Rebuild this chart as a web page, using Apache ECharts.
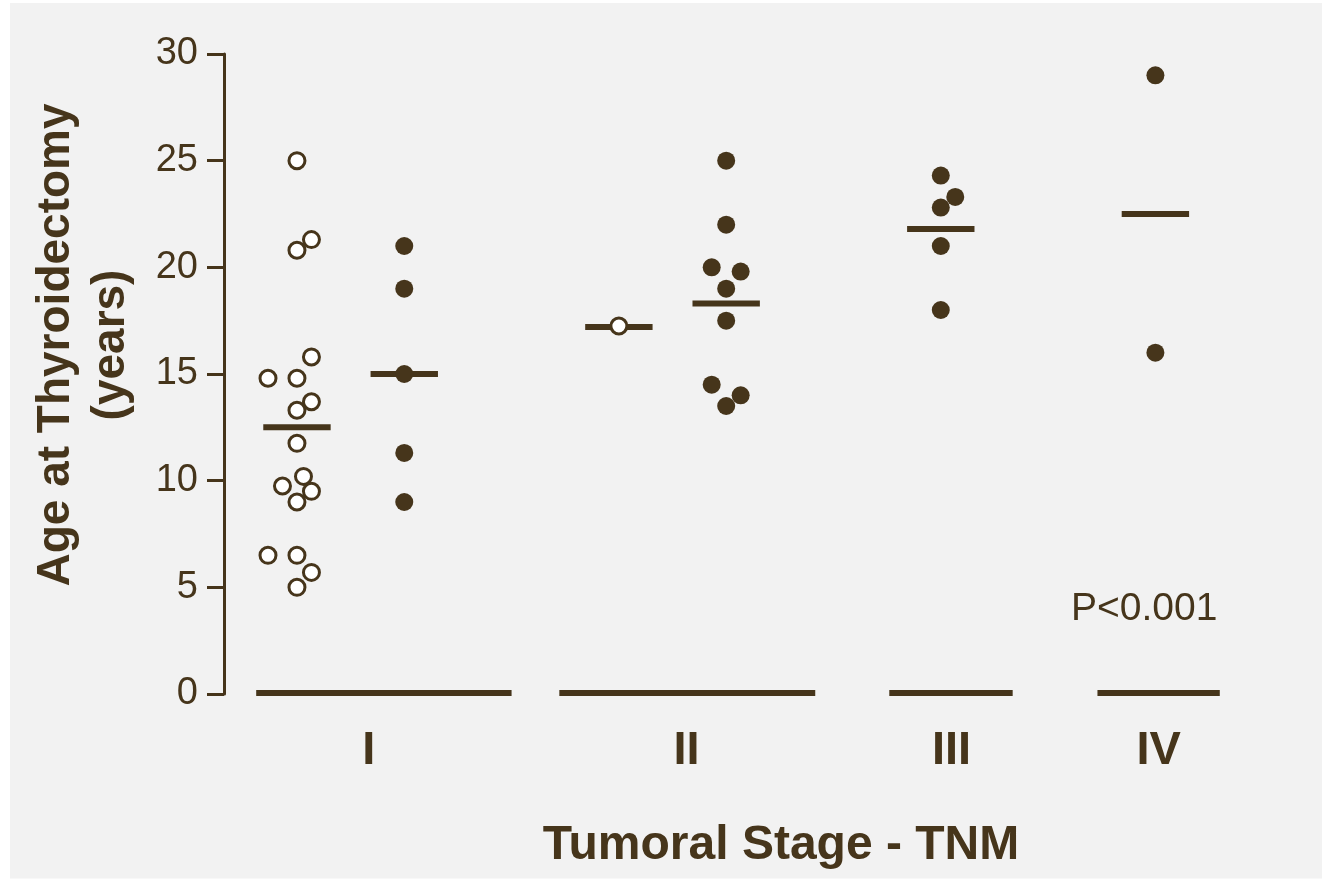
<!DOCTYPE html>
<html>
<head>
<meta charset="utf-8">
<script src="https://cdn.jsdelivr.net/npm/echarts@6/dist/echarts.min.js"></script>
<style>
  html, body { margin: 0; padding: 0; background: #ffffff; }
  #chart { width: 1322px; height: 879px; }
</style>
</head>
<body>
<div id="chart"></div>
<script>
// ---- Data ----
const stageLabels = ['I', 'II', 'III', 'IV'];
const yTicks = [0, 5, 10, 15, 20, 25, 30];

// Stage I, open circles
const stageIOpen = [25, 21.3, 20.8, 15.8, 14.8, 14.8, 13.7, 13.3, 11.75, 10.2, 9.75, 9.5, 9.0, 6.5, 6.5, 5.7, 5.0];
const stageIOpenSlot = [0, 1, 0, 1, -2, 0, 1, 0, 0, 0.45, -1, 1, 0, -2, 0, 1, 0];
// Stage I, filled circles
const stageIFilled = [21, 19, 15, 11.3, 9];
// Stage II, open circle
const stageIIOpen = [17.25];
// Stage II, filled circles
const stageIIFilled = [25, 22, 20, 19.8, 19, 17.5, 14.5, 14, 13.5];
const stageIIFilledSlot = [0, 0, -1, 1, 0, 0, -1, 1, 0];
// Stage III
const stageIII = [24.3, 23.3, 22.8, 21, 18];
const stageIIISlot = [0, 1, 0, 0, 0];
// Stage IV
const stageIV = [29, 16];

// Mean bars, per column
const columnMeans = [12.5, 15.0, 17.2, 18.3, 21.8, 22.5];

// ---- Layout (axis units on the hidden x axis) ----
const columnPos = [0, 1, 3, 4, 6, 8];
const groupSpans = [[-0.38, 2.0], [2.445, 4.83], [5.52, 6.67], [7.46, 8.6]];
const labelPos = [0.67, 3.63, 6.1, 8.03];
const SLOT = 0.135;
const MEAN_HALF = 0.314;

const BROWN = '#46351b';
const FONT = "'Liberation Sans', Arial, Helvetica, sans-serif";

function pts(col, values, slots) {
  return values.map((v, i) => [col + (slots ? slots[i] : 0) * SLOT, v]);
}

const openStyle = { color: '#ffffff', borderColor: BROWN, borderWidth: 3, opacity: 1 };
const filledStyle = { color: BROWN, borderWidth: 0, opacity: 1 };

const chart = echarts.init(document.getElementById('chart'), null, { renderer: 'canvas' });

const option = {
  animation: false,
  backgroundColor: '#ffffff',
  grid: { left: 224, right: 59.3, top: 54, bottom: 185, containLabel: false },
  xAxis: {
    type: 'value', min: -0.68, max: 9, show: false
  },
  yAxis: {
    type: 'value', min: 0, max: 30, interval: 5,
    axisLine: { show: true, onZero: false, lineStyle: { color: BROWN, width: 3 } },
    axisTick: { show: true, length: 17, lineStyle: { color: BROWN, width: 3 } },
    axisLabel: {
      color: BROWN, fontSize: 38, fontFamily: FONT, margin: 26,
      formatter: v => (yTicks.indexOf(v) >= 0 ? String(v) : '')
    },
    splitLine: { show: false }
  },
  graphic: [
    {
      type: 'rect', z: -100, silent: true,
      shape: { x: 10, y: 3, width: 1312, height: 875.5 },
      style: { fill: '#f2f2f2' }
    },
    {
      type: 'text', silent: true, x: 84, y: 345, rotation: Math.PI / 2,
      style: {
        text: 'Age at Thyroidectomy\n(years)', fill: BROWN,
        font: 'bold 46px ' + FONT, lineHeight: 55,
        align: 'center', verticalAlign: 'middle'
      }
    },
    {
      type: 'text', silent: true, x: 781, y: 846,
      style: {
        text: 'Tumoral Stage - TNM', fill: BROWN,
        font: 'bold 48px ' + FONT, align: 'center', verticalAlign: 'middle'
      }
    },
    {
      type: 'text', silent: true, x: 1071, y: 609,
      style: {
        text: 'P<0.001', fill: BROWN,
        font: '39px ' + FONT, align: 'left', verticalAlign: 'middle'
      }
    }
  ],
  series: [
    {
      type: 'custom', name: 'baseline', z: 2, silent: true,
      data: groupSpans,
      renderItem: function (params, api) {
        const p1 = api.coord([api.value(0), 0]);
        const p2 = api.coord([api.value(1), 0]);
        return {
          type: 'line',
          shape: { x1: p1[0], y1: p1[1] - 1, x2: p2[0], y2: p2[1] - 1 },
          style: { stroke: BROWN, lineWidth: 6 }
        };
      }
    },
    {
      type: 'custom', name: 'stageLabels', z: 2, silent: true,
      data: labelPos.map((p, i) => [p, i]),
      renderItem: function (params, api) {
        const p = api.coord([api.value(0), 0]);
        return {
          type: 'text',
          x: p[0], y: p[1] + 57,
          style: {
            text: stageLabels[api.value(1)], fill: BROWN,
            font: 'bold 47px ' + FONT, align: 'center', verticalAlign: 'middle'
          }
        };
      }
    },
    {
      type: 'custom', name: 'means', z: 3, silent: true,
      data: columnMeans.map((m, i) => [columnPos[i], m]),
      renderItem: function (params, api) {
        const x = api.value(0), y = api.value(1);
        const p1 = api.coord([x - MEAN_HALF, y]);
        const p2 = api.coord([x + MEAN_HALF, y]);
        return {
          type: 'line',
          shape: { x1: p1[0], y1: p1[1], x2: p2[0], y2: p2[1] },
          style: { stroke: BROWN, lineWidth: 6 }
        };
      }
    },
    {
      type: 'scatter', name: 'I open', z: 5, symbol: 'circle', symbolSize: 16,
      itemStyle: openStyle, data: pts(columnPos[0], stageIOpen, stageIOpenSlot)
    },
    {
      type: 'scatter', name: 'I filled', z: 5, symbol: 'circle', symbolSize: 18,
      itemStyle: filledStyle, data: pts(columnPos[1], stageIFilled)
    },
    {
      type: 'scatter', name: 'II open', z: 5, symbol: 'circle', symbolSize: 16,
      itemStyle: openStyle, data: pts(columnPos[2], stageIIOpen)
    },
    {
      type: 'scatter', name: 'II filled', z: 5, symbol: 'circle', symbolSize: 18,
      itemStyle: filledStyle, data: pts(columnPos[3], stageIIFilled, stageIIFilledSlot)
    },
    {
      type: 'scatter', name: 'III', z: 5, symbol: 'circle', symbolSize: 18,
      itemStyle: filledStyle, data: pts(columnPos[4], stageIII, stageIIISlot)
    },
    {
      type: 'scatter', name: 'IV', z: 5, symbol: 'circle', symbolSize: 18,
      itemStyle: filledStyle, data: pts(columnPos[5], stageIV)
    }
  ]
};

chart.setOption(option);
</script>
</body>
</html>
